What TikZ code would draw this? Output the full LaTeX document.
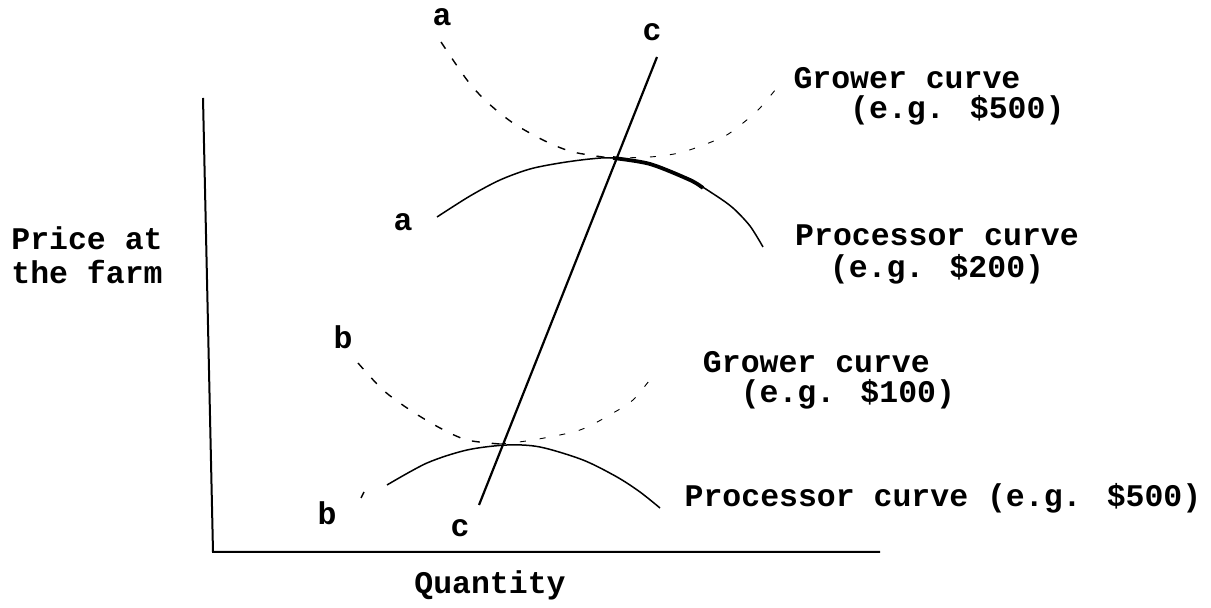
\documentclass[tikz,border=0pt]{standalone}
\usepackage{fontspec}
\setmainfont{Liberation Mono}
\usetikzlibrary{positioning}

\begin{document}
\begin{tikzpicture}[x=0.5pt, y=-0.5pt,
  lbl/.style={font=\fontsize{15.75}{17}\selectfont\bfseries, inner sep=0pt, align=center},
  lbll/.style={lbl, align=left},
  axisline/.style={line width=1pt},
  proc/.style={line width=0.75pt},
  procbold/.style={line width=1.9pt},
  growdash/.style={line width=0.7pt, dash pattern=on 4pt off 6pt},
  growfaint/.style={line width=0.45pt, dash pattern=on 3pt off 7pt},
  cline/.style={line width=1.1pt}
]
\useasboundingbox (0,0) rectangle (1211,608);

\coordinate (ytop) at (203,98);
\coordinate (origin) at (213,552);
\coordinate (xend) at (880,552);
\draw[axisline] (ytop) -- (origin) -- (xend);

\node[lbl] (ylab) at (87,255) {Price at\\the farm};
\node[lbl] (xlab) at (490,585) {Quantity};

\node[lbl] (atop) at (442,17) {a};
\node[lbl] (ctop) at (652,32) {c};
\node[lbl] (amid) at (403,222) {a};
\node[lbl] (bmid) at (343,337) {b};
\node[lbl] (blow) at (327,513) {b};
\node[lbl] (clow) at (460,528) {c};

\coordinate (cstart) at (479,505);
\coordinate (cend) at (657,57);
\draw[cline] (cstart) -- (cend);

\draw[growdash] plot[smooth] coordinates {(441,42) (467,80) (487,102) (513,123) (545,141) (573,152) (610,158)};
\draw[growfaint] plot[smooth] coordinates {(610,158) (650,157) (683,152) (723,137) (743,123) (760,108) (780,84)};
\draw[proc] plot[smooth] coordinates {(437,217) (470,196) (500,180) (530,169) (560,163) (590,159) (613,158) (650,164) (690,180) (715,195) (733,208) (750,226) (763,247)};
\draw[procbold] plot[smooth] coordinates {(613,158) (650,164) (690,180) (703,188)};

\draw[growdash] plot[smooth] coordinates {(358,363) (383,390) (410,410) (440,428) (467,440) (500,444)};
\draw[growfaint] plot[smooth] coordinates {(500,444) (533,440) (580,430) (613,413) (633,400) (652,377)};
\draw[proc] plot[smooth] coordinates {(387,485) (427,463) (467,450) (507,445) (540,447) (583,460) (617,477) (640,492) (660,508)};
\draw[proc] (361,498) -- (364,492);

\node[lbll] (grow1) at (929,96) {Grower curve\\[-2pt]\hspace*{28.35pt}(e.g. \$500)};
\node[lbl] (proc1) at (937,254) {Processor curve\\[-1pt](e.g. \$200)};
\node[lbll] (grow2) at (829,380) {Grower curve\\[-2pt]\hspace*{18.9pt}(e.g. \$100)};
\node[lbl] (proc2) at (943,498) {Processor curve (e.g. \$500)};
\end{tikzpicture}
\end{document}
